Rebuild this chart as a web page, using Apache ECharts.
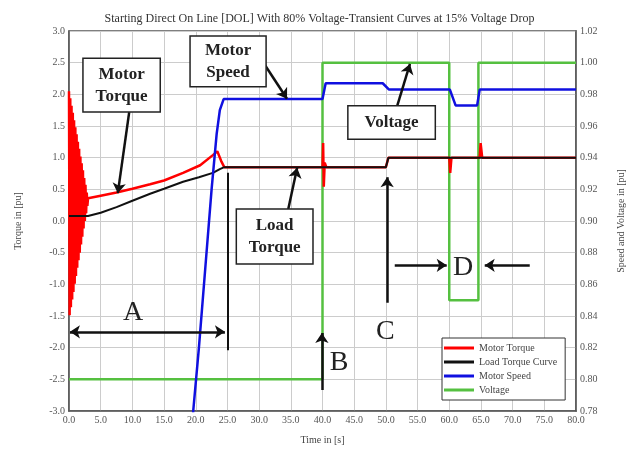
<!DOCTYPE html>
<html><head><meta charset="utf-8">
<script src="https://cdn.jsdelivr.net/npm/echarts@6/dist/echarts.min.js"></script>
<style>html,body{margin:0;padding:0;background:#fff}#c{width:639px;height:451px}</style>
</head><body><div id="c"></div>
<script>
// ---- data ----
const xTicks = [0,5,10,15,20,25,30,35,40,45,50,55,60,65,70,75,80];
const motorTorqueT = [0,0.1,0.2,0.3,0.4,0.5,0.6,0.7,0.8,0.9,1.0,1.1,1.2,1.3,1.4,1.5,1.6,1.7,1.8,1.9,2.0,2.1,2.2,2.3,2.4,2.5,2.6,2.7,2.8,2.9,3.0,
  5,7.5,10,12.8,15,18,20.7,22.7,23.4,24.0,24.5,40,40.1,40.2,40.35,40.6,50,50.4,60,60.15,60.35,64.8,64.95,65.2,80];
const motorTorqueV = [2.05,-1.49,1.94,-1.36,1.82,-1.24,1.71,-1.12,1.59,-0.99,1.48,-0.87,1.37,-0.74,1.25,-0.62,1.14,-0.50,1.02,-0.37,0.91,-0.25,0.80,-0.12,0.68,0.00,0.57,0.12,0.45,0.24,0.36,
  0.40,0.45,0.51,0.58,0.64,0.76,0.88,1.04,1.10,0.95,0.85,0.85,1.23,0.54,0.92,0.85,0.85,1.0,1.0,0.76,1.0,1.0,1.23,1.0,1.0];
const loadTorqueT = [0,3,5,7.5,10,12.8,15,18,20.5,22.7,23.8,24.5,40,50,50.4,80];
const loadTorqueV = [0.08,0.08,0.13,0.22,0.32,0.43,0.51,0.62,0.69,0.76,0.82,0.85,0.85,0.85,1.0,1.0];
const speedT = [19.0,19.6,20.5,21.5,22.5,23.3,23.8,24.4,40,40.5,49.5,50.5,60.1,61.0,64.4,64.8,80];
const speedV = [0.74,0.78,0.82,0.87,0.92,0.955,0.97,0.977,0.977,0.987,0.987,0.983,0.983,0.973,0.973,0.983,0.983];
const voltageT = [0,40,40,60,60,64.6,64.6,80];
const voltageV = [0.80,0.80,1.00,1.00,0.85,0.85,1.00,1.00];
const seriesNames = ['Motor Torque','Load Torque Curve','Motor Speed','Voltage'];

// ---- annotations (data coordinates: time, torque) ----
const boxes = [
  {text:'Motor\nTorque', a:[2.2,2.57], b:[14.4,1.72]},
  {text:'Motor\nSpeed',  a:[19.1,2.92], b:[31.1,2.12]},
  {text:'Load\nTorque',  a:[26.4,0.19], b:[38.5,-0.68]},
  {text:'Voltage',       a:[44.0,1.82], b:[57.8,1.29]}
];
const letters = [
  {text:'A', p:[10.1,-1.44]}, {text:'B', p:[42.6,-2.23]},
  {text:'C', p:[49.9,-1.75]}, {text:'D', p:[62.2,-0.73]}
];
const arrows = [
  [[9.5,1.72],[7.7,0.44]], [[30.6,2.51],[34.4,1.93]], [[34.6,0.19],[36.0,0.84]],
  [[51.8,1.82],[53.8,2.48]], [[39.9,-2.67],[39.9,-1.77]], [[50.2,-1.29],[50.2,0.69]],
  [[51.4,-0.70],[59.6,-0.70]], [[72.7,-0.70],[65.6,-0.70]]
];
const doubleArrows = [ [[0.15,-1.75],[24.6,-1.75]] ];
const plainLines = [ [[25.1,0.76],[25.1,-2.04]] ];

const zip = (t,v) => t.map((x,i)=>[x,v[i]]);
const FONT = '"Liberation Serif", "DejaVu Serif", serif';

const chart = echarts.init(document.getElementById('c'));
const annItems = boxes.map(b=>({value:[b.a[0],b.a[1],b.b[0],b.b[1]], txt:b.text, box:true}))
  .concat(letters.map(l=>({value:[l.p[0],l.p[1],l.p[0],l.p[1]], txt:l.text, box:false})));

chart.setOption({
  animation:false,
  backgroundColor:'#fff',
  title:{text:'Starting Direct On Line [DOL] With 80% Voltage-Transient Curves at 15% Voltage Drop',
    left:'center', top:8, textStyle:{fontFamily:FONT, fontSize:12, fontWeight:'normal', color:'#333'}},
  grid:{left:69, right:63, top:31, bottom:40, show:true, borderColor:'#555', borderWidth:1.5, backgroundColor:'#fff'},
  legend:{data:seriesNames, orient:'vertical', left:442, top:338, itemWidth:30, itemHeight:3, itemGap:4,
    icon:'rect', backgroundColor:'#fff', borderColor:'#333', borderWidth:1, padding:[5,8,5,2],
    textStyle:{fontFamily:FONT, fontSize:10, color:'#444'}},
  xAxis:{type:'value', min:0, max:80, interval:5, name:'Time in [s]', nameLocation:'middle', nameGap:24,
    nameTextStyle:{fontFamily:FONT, fontSize:10, color:'#444'},
    axisLine:{onZero:false, lineStyle:{color:'#555', width:1.5}}, axisTick:{show:false},
    axisLabel:{fontFamily:FONT, fontSize:10, color:'#555', margin:4, showMinLabel:true, showMaxLabel:true,
      formatter:v=>v.toFixed(1)},
    splitLine:{lineStyle:{color:'#ccc', width:1}}},
  yAxis:[
    {type:'value', min:-3, max:3, interval:0.5, name:'Torque in [pu]', nameLocation:'middle', nameGap:46, nameRotate:90,
      nameTextStyle:{fontFamily:FONT, fontSize:10, color:'#444'},
      axisLine:{show:true, onZero:false, lineStyle:{color:'#555', width:1.5}}, axisTick:{show:false},
      axisLabel:{fontFamily:FONT, fontSize:10, color:'#555', margin:4, formatter:v=>v.toFixed(1)},
      splitLine:{lineStyle:{color:'#ccc', width:1}}},
    {type:'value', min:0.78, max:1.02, interval:0.02, position:'right', name:'Speed and Voltage in [pu]',
      nameLocation:'middle', nameGap:40, nameRotate:90,
      nameTextStyle:{fontFamily:FONT, fontSize:10, color:'#444'},
      axisLine:{show:true, onZero:false, lineStyle:{color:'#555', width:1.5}}, axisTick:{show:false},
      axisLabel:{fontFamily:FONT, fontSize:10, color:'#555', margin:4, formatter:v=>v.toFixed(2)},
      splitLine:{show:false}}
  ],
  series:[
    {name:seriesNames[0], type:'line', yAxisIndex:0, data:zip(motorTorqueT,motorTorqueV), showSymbol:false,
      lineStyle:{color:'#ff0000', width:2.5}, itemStyle:{color:'#ff0000'}, z:2},
    {name:seriesNames[1], type:'line', yAxisIndex:0, data:zip(loadTorqueT,loadTorqueV), showSymbol:false, smooth:false,
      lineStyle:{color:'#111', width:2}, itemStyle:{color:'#111'}, z:3},
    {name:seriesNames[2], type:'line', yAxisIndex:1, data:zip(speedT,speedV), showSymbol:false,
      lineStyle:{color:'#1010e0', width:2.5}, itemStyle:{color:'#1010e0'}, z:4},
    {name:seriesNames[3], type:'line', yAxisIndex:1, data:zip(voltageT,voltageV), showSymbol:false,
      lineStyle:{color:'#55c040', width:2.5}, itemStyle:{color:'#55c040'}, z:1},
    {type:'lines', coordinateSystem:'cartesian2d', yAxisIndex:0, z:6, symbol:['none','arrow'], symbolSize:10,
      lineStyle:{color:'#111', width:2.5, opacity:1}, data:arrows.map(c=>({coords:c}))},
    {type:'lines', coordinateSystem:'cartesian2d', yAxisIndex:0, z:6, symbol:['arrow','arrow'], symbolSize:10,
      lineStyle:{color:'#111', width:2.5, opacity:1}, data:doubleArrows.map(c=>({coords:c}))},
    {type:'lines', coordinateSystem:'cartesian2d', yAxisIndex:0, z:6, symbol:['none','none'],
      lineStyle:{color:'#111', width:2, opacity:1}, data:plainLines.map(c=>({coords:c}))},
    {type:'custom', yAxisIndex:0, z:7, clip:false, data:annItems,
      renderItem:function(params, api){
        const it = annItems[params.dataIndex];
        const p1 = api.coord([api.value(0), api.value(1)]);
        const p2 = api.coord([api.value(2), api.value(3)]);
        const cx = (p1[0]+p2[0])/2, cy = (p1[1]+p2[1])/2;
        const children = [];
        if (it.box) {
          children.push({type:'rect', shape:{x:p1[0], y:p1[1], width:p2[0]-p1[0], height:p2[1]-p1[1]},
            style:{fill:'#fff', stroke:'#222', lineWidth:1.5}});
          children.push({type:'text', style:{text:it.txt, x:cx, y:cy, align:'center', verticalAlign:'middle',
            font:'bold 17px ' + FONT, lineHeight:22, fill:'#222'}});
        } else {
          children.push({type:'text', style:{text:it.txt, x:cx, y:cy, align:'center', verticalAlign:'middle',
            font:'28px ' + FONT, fill:'#222'}});
        }
        return {type:'group', children:children};
      }}
  ]
});
</script></body></html>
